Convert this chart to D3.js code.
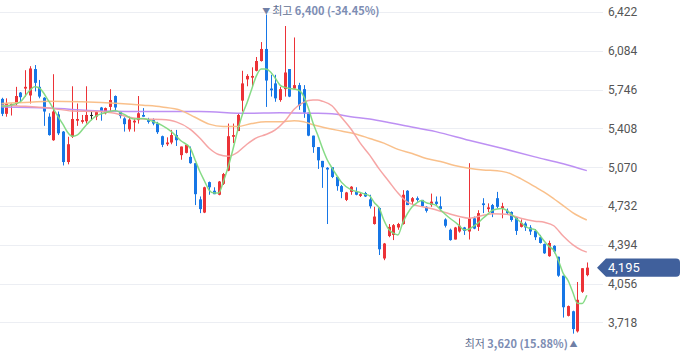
<!DOCTYPE html>
<html><head><meta charset="utf-8">
<script src="https://cdn.jsdelivr.net/npm/d3@7/dist/d3.min.js"></script>
<style>
html,body{margin:0;padding:0;background:#fff;}
svg{display:block;}
</style>
</head><body>
<svg id="chart" width="680" height="358"></svg>
<script>
// ---- data ----
const opens = [5665,5535,5605,5620,5720,5755,5695,5925,5770,5675,5510,5305,5530,5380,5115,5335,5475,5465,5470,5525,
5510,5590,5540,5595,5690,5555,5495,5400,5460,5480,5525,5480,5480,5450,5340,5270,5285,5350,5175,5195,
5160,5105,4790,4675,4940,4865,4830,4925,5040,5335,5385,5650,5835,5850,5910,5995,6100,5755,5800,5655,
5750,5925,5755,5785,5750,5545,5345,5245,5125,5065,5070,4985,4905,4785,4855,4855,4820,4845,4790,4575,
4715,4275,4470,4480,4545,4575,4865,4770,4800,4785,4725,4740,4770,4730,4615,4525,4440,4510,4545,4510,
4625,4550,4755,4705,4740,4800,4710,4690,4680,4635,4550,4580,4545,4515,4460,4400,4295,4385,4290,4125,
3775,3815,3640,3985,4130];
const highs = [5675,5670,5625,5770,5725,5915,5950,5960,5830,5680,5540,5880,5555,5385,5335,5775,5625,5525,5775,5555,
5560,5595,5590,5750,5695,5560,5505,5510,5495,5690,5585,5500,5495,5465,5345,5330,5395,5395,5250,5265,
5250,5105,4815,4900,4945,4895,4950,5020,5450,5450,5540,5910,5880,5940,6030,6160,6400,5875,5875,5770,
6300,5925,6200,5805,5785,5545,5345,5245,5125,5070,5070,4985,4915,4855,4905,4895,4845,4855,4830,4725,
4720,4410,4575,4575,4585,4870,4870,4810,4815,4785,4730,4840,4815,4815,4625,4535,4550,4625,4550,5105,
4640,4695,4800,4755,4750,4855,4760,4710,4685,4635,4615,4595,4565,4530,4480,4405,4430,4390,4290,4125,
3865,3820,4070,4190,4240];
const lows = [5515,5510,5520,5610,5640,5685,5625,5730,5670,5430,5345,5300,5350,5085,5095,5325,5430,5450,5450,5480,
5480,5475,5530,5555,5555,5495,5380,5380,5380,5450,5510,5450,5435,5360,5245,5255,5270,5255,5135,5190,
5100,4740,4670,4670,4830,4835,4825,4915,5035,5280,5385,5555,5775,5770,5905,5990,5595,5685,5640,5640,
5685,5680,5755,5570,5500,5340,5195,5055,4890,4575,4975,4865,4800,4775,4830,4825,4810,4810,4710,4570,
4305,4260,4460,4435,4525,4570,4740,4740,4770,4725,4675,4725,4740,4690,4545,4430,4440,4500,4480,4440,
4530,4515,4670,4680,4635,4710,4625,4655,4595,4480,4545,4515,4480,4435,4405,4315,4290,4320,4115,3760,
3770,3620,3630,3975,4120];
const closes = [5535,5625,5620,5690,5680,5770,5930,5805,5685,5555,5350,5555,5365,5115,5270,5490,5490,5480,5525,5525,
5550,5560,5585,5655,5590,5515,5445,5485,5475,5540,5510,5465,5450,5375,5265,5285,5350,5305,5250,5265,
5105,4835,4705,4895,4895,4835,4945,5010,5340,5350,5525,5800,5865,5865,5995,6100,5825,5740,5670,5750,
5895,5685,5785,5605,5545,5345,5245,5130,5070,5050,4985,4905,4855,4850,4900,4830,4835,4815,4730,4640,
4355,4405,4550,4565,4575,4830,4740,4800,4785,4730,4690,4770,4750,4705,4560,4435,4545,4560,4515,4625,
4535,4670,4740,4720,4670,4725,4730,4670,4610,4515,4585,4545,4510,4460,4410,4320,4410,4335,4125,3850,
3860,3660,3915,4190,4195];

// moving averages: [candle index, value]
const ma5 = [[0,5600],[2,5610],[4,5640],[6,5740],[7,5770],[8,5760],[10,5645],[12,5510],[13,5445],[14,5375],[15,5340],[16,5350],
[18,5440],[20,5515],[22,5545],[24,5565],[26,5530],[28,5490],[30,5495],[32,5470],[34,5435],[36,5380],[38,5300],[40,5235],
[41,5135],[42,5035],[43,4950],[44,4870],[45,4845],[46,4845],[47,4945],[48,5070],[49,5220],[50,5385],[51,5525],[52,5630],
[53,5750],[54,5865],[55,5925],[56,5925],[57,5900],[58,5845],[59,5785],[60,5765],[61,5755],[62,5750],[63,5740],[64,5690],
[65,5585],[66,5455],[67,5350],[68,5235],[69,5135],[70,5065],[71,5000],[72,4940],[74,4875],[76,4850],[77,4835],[78,4820],
[79,4760],[80,4715],[81,4610],[82,4530],[83,4495],[84,4480],[85,4585],[86,4665],[87,4725],[88,4760],[89,4780],[90,4760],
[91,4750],[92,4740],[93,4700],[94,4660],[95,4625],[96,4595],[97,4560],[98,4525],[99,4530],[100,4555],[101,4585],[102,4625],
[103,4660],[104,4695],[105,4705],[106,4710],[107,4695],[108,4660],[109,4625],[110,4590],[111,4555],[112,4535],[113,4525],
[114,4480],[115,4425],[116,4380],[117,4345],[118,4255],[119,4145],[120,4085],[121,3985],[122,3885],[123,3882],[124,3955]];
const ma20 = [[0,5610],[5,5600],[10,5585],[15,5560],[20,5555],[24,5540],[27,5505],[30,5490],[34,5485],[37,5465],[40,5400],
[42,5325],[44,5235],[46,5180],[48,5165],[50,5200],[52,5270],[54,5325],[56,5355],[58,5395],[60,5470],[62,5575],[64,5635],
[66,5655],[67,5655],[68,5645],[70,5605],[72,5505],[74,5405],[76,5280],[78,5175],[80,5055],[82,4950],[84,4845],[86,4765],
[88,4735],[91,4710],[94,4675],[97,4640],[99,4625],[101,4640],[104,4665],[107,4660],[110,4625],[113,4600],[115,4590],
[117,4560],[119,4470],[121,4395],[123,4345],[124,4330]];
const ma60 = [[0,5625],[6,5635],[10,5645],[17,5640],[25,5625],[30,5610],[34,5595],[38,5565],[41,5505],[44,5445],[47,5425],
[50,5425],[53,5450],[56,5465],[59,5465],[62,5475],[64,5465],[66,5440],[69,5410],[72,5385],[75,5360],[78,5320],[81,5280],
[84,5225],[87,5190],[90,5145],[93,5120],[96,5085],[99,5060],[102,5045],[105,5040],[107,5025],[110,4970],[113,4900],
[116,4825],[119,4735],[121,4675],[124,4610]];
const ma120 = [[0,5595],[10,5585],[21,5560],[32,5555],[42,5555],[52,5540],[59,5545],[66,5540],[70,5535],[74,5510],[78,5490],
[82,5460],[85,5435],[92,5380],[99,5305],[106,5235],[113,5160],[119,5100],[124,5040]];

const yTicks = [6422,6084,5746,5408,5070,4732,4394,4056,3718];
const maxInfo = {label:"최고", value:6400, pct:"-34.45%"};
const minInfo = {label:"최저", value:3620, pct:"15.88%"};

// ---- drawing ----
const svg = d3.select("#chart");
const N = closes.length;
const x = d3.scaleLinear().domain([0, N-1]).range([1.5, 586.8]);
const y = d3.scaleLinear().domain([3718, 6422]).range([322.4, 12]);
const fmt = d3.format(",");
const gridRight = 603;

// grid
svg.append("g").selectAll("line").data(yTicks).join("line")
  .attr("x1",0).attr("x2",gridRight)
  .attr("y1",d=>Math.round(y(d))+0.5).attr("y2",d=>Math.round(y(d))+0.5)
  .attr("stroke","#eceef3").attr("stroke-width",1);

// y axis labels
const yAxis = d3.axisRight(y).tickValues(yTicks).tickSize(0).tickPadding(0).tickFormat(fmt);
const ga = svg.append("g").attr("transform",`translate(608,0)`).call(yAxis);
ga.select(".domain").remove();
ga.selectAll("text").attr("font-family","Roboto, 'Noto Sans CJK KR', sans-serif")
  .attr("font-size","12px").attr("fill","#555").attr("x",0);

// candles
const RED="#ec3237", BLUE="#1676e6", BLACK="#222";
const idx = d3.range(N);
const col = i => closes[i]>opens[i]?RED:(closes[i]<opens[i]?BLUE:BLACK);
const cg = svg.append("g");
cg.selectAll("line").data(idx).join("line")
  .attr("x1",i=>Math.round(x(i))+0.5).attr("x2",i=>Math.round(x(i))+0.5)
  .attr("y1",i=>y(highs[i])).attr("y2",i=>y(lows[i]))
  .attr("stroke",col).attr("stroke-width",1);
cg.selectAll("rect").data(idx).join("rect")
  .attr("x",i=>Math.round(x(i))+0.5-1.5).attr("width",3)
  .attr("y",i=>y(Math.max(opens[i],closes[i])))
  .attr("height",i=>Math.max(1, y(Math.min(opens[i],closes[i]))-y(Math.max(opens[i],closes[i]))))
  .attr("fill",col);

// moving averages
const line = d3.line().x(d=>x(d[0])).y(d=>y(d[1])).curve(d3.curveMonotoneX);
const mas = [[ma120,"#b98af2"],[ma60,"#f9bd85"],[ma20,"#f6a0a0"],[ma5,"#7fd97f"]];
svg.append("g").selectAll("path").data(mas).join("path")
  .attr("d",d=>line(d[0])).attr("fill","none")
  .attr("stroke",d=>d[1]).attr("stroke-width",1.5).attr("stroke-opacity",0.95);

// max / min labels
const iMax = d3.maxIndex(highs), iMin = d3.minIndex(lows);
const tMax = svg.append("text").attr("x",x(iMax)-3.5).attr("y",9.5)
  .attr("dominant-baseline","central").attr("font-family","'Noto Sans CJK KR', sans-serif")
  .attr("font-size","11px");
tMax.append("tspan").attr("fill","#6f7fa6").attr("font-size","8px").text("▼ ");
tMax.append("tspan").attr("fill","#5f6f92").text(maxInfo.label+" ");
tMax.append("tspan").attr("fill","#7d8db3").attr("font-weight","bold").text(fmt(maxInfo.value)+" ("+maxInfo.pct+")");

const tMin = svg.append("text").attr("x",x(iMin)+5).attr("y",342.5).attr("text-anchor","end")
  .attr("dominant-baseline","central").attr("font-family","'Noto Sans CJK KR', sans-serif")
  .attr("font-size","11px");
tMin.append("tspan").attr("fill","#5f6f92").text(minInfo.label+" ");
tMin.append("tspan").attr("fill","#7d8db3").attr("font-weight","bold").text(fmt(minInfo.value)+" ("+minInfo.pct+")");
tMin.append("tspan").attr("fill","#6f7fa6").attr("font-size","8px").text(" ▲");

// current price tag
const last = closes[N-1];
const ty = y(last);
const tag = svg.append("g");
tag.append("path").attr("d",`M597,${ty} L606,${ty-9.2} L676,${ty-9.2} Q680,${ty-9.2} 680,${ty-5.2} L680,${ty+5.2} Q680,${ty+9.2} 676,${ty+9.2} L606,${ty+9.2} Z`)
  .attr("fill","#40609c");
tag.append("text").attr("x",608).attr("y",ty).attr("dominant-baseline","central")
  .attr("font-family","Roboto, 'Noto Sans CJK KR', sans-serif").attr("font-size","13px")
  .attr("fill","#fff").text(fmt(last));
</script>
</body></html>
